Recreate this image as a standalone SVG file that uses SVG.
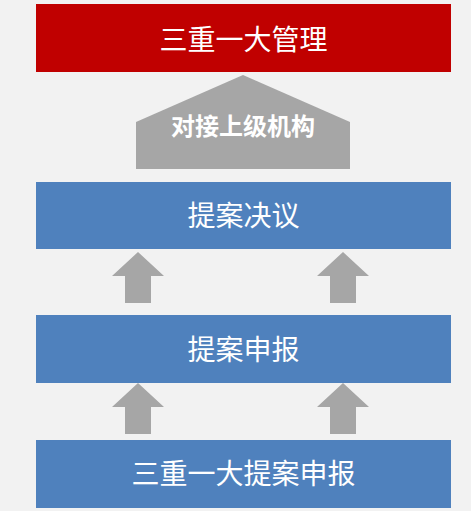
<svg xmlns="http://www.w3.org/2000/svg" width="471" height="511" viewBox="0 0 471 511">
<style>
.lbl{font-family:"Microsoft YaHei","Noto Sans CJK SC",sans-serif;fill:#fff;text-anchor:middle;font-size:28px}
.blue{fill:#4F81BD}
.arr{fill:#A6A6A6}
</style>
<defs>
<path id="up" d="M0,0 L26,24 L13,24 L13,51 L-13,51 L-13,24 L-26,24 Z"/>
</defs>
<rect width="471" height="511" fill="#F2F2F2"/>
<g id="node-top">
<rect x="36" y="4" width="415" height="68" fill="#C00000"/>
<text class="lbl" x="243.5" y="50">三重一大管理</text>
</g>
<g id="node-upper">
<path class="arr" d="M243,75 L350,122 L350,169 L136,169 L136,122 Z"/>
<text class="lbl" x="243" y="135" style="font-size:24px;font-weight:bold">对接上级机构</text>
</g>
<g id="node-decision">
<rect class="blue" x="36" y="182" width="415" height="67"/>
<text class="lbl" x="243.5" y="225.5">提案决议</text>
</g>
<g id="node-report">
<rect class="blue" x="36" y="315" width="415" height="68"/>
<text class="lbl" x="243.5" y="359.5">提案申报</text>
</g>
<g id="node-proposal">
<rect class="blue" x="36" y="440" width="415" height="68"/>
<text class="lbl" x="243.5" y="484">三重一大提案申报</text>
</g>
<g id="connectors">
<use href="#up" class="arr" x="138" y="252"/>
<use href="#up" class="arr" x="343" y="252"/>
<use href="#up" class="arr" x="138" y="383"/>
<use href="#up" class="arr" x="343" y="383"/>
</g>
</svg>
